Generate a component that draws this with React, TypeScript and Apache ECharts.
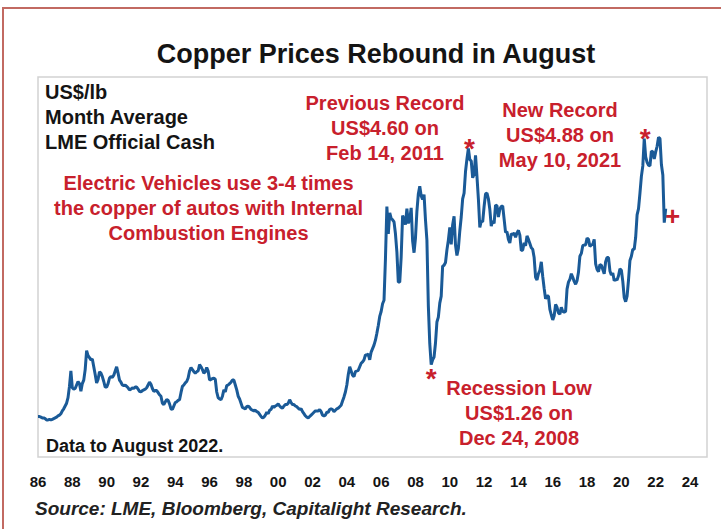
import React, { useEffect, useRef } from "react";
import * as echarts from "echarts";

// Monthly average LME official cash copper price, US$/lb, Jan 1986 - Aug 2022
const START_YEAR = 1986;
const prices1986to1993 = [
  0.65, 0.65, 0.64, 0.63, 0.63, 0.62, 0.60, 0.60, 0.61, 0.60, 0.61, 0.62,
  0.63, 0.64, 0.66, 0.67, 0.69, 0.73, 0.76, 0.80, 0.84, 0.92, 1.08, 1.30,
  1.06, 1.04, 1.05, 1.10, 1.15, 1.12, 1.01, 1.12, 1.17, 1.32, 1.59, 1.52,
  1.49, 1.46, 1.47, 1.36, 1.25, 1.13, 1.18, 1.29, 1.27, 1.22, 1.15, 1.07,
  1.07, 1.12, 1.20, 1.22, 1.21, 1.24, 1.30, 1.36, 1.27, 1.17, 1.14, 1.10,
  1.09, 1.10, 1.08, 1.06, 1.03, 1.04, 1.06, 1.05, 1.07, 1.07, 1.04, 1.01,
  1.00, 1.02, 1.03, 1.04, 1.06, 1.10, 1.14, 1.11, 1.05, 1.01, 1.02, 1.02,
  0.99, 0.96, 0.94, 0.84, 0.82, 0.86, 0.89, 0.88, 0.83, 0.76, 0.75, 0.80,
];
const prices1994to2001 = [
  0.85, 0.86, 0.88, 0.89, 0.99, 1.08, 1.10, 1.13, 1.15, 1.20, 1.30, 1.35,
  1.32, 1.29, 1.27, 1.29, 1.30, 1.39, 1.36, 1.32, 1.27, 1.29, 1.35, 1.30,
  1.17, 1.18, 1.19, 1.20, 1.18, 1.00, 0.92, 0.90, 0.89, 0.94, 1.03, 1.00,
  1.09, 1.10, 1.12, 1.14, 1.17, 1.17, 1.10, 1.03, 0.94, 0.90, 0.84, 0.78,
  0.77, 0.76, 0.79, 0.80, 0.78, 0.75, 0.74, 0.73, 0.74, 0.72, 0.71, 0.68,
  0.65, 0.63, 0.64, 0.67, 0.71, 0.69, 0.74, 0.75, 0.80, 0.78, 0.80, 0.81,
  0.83, 0.80, 0.78, 0.77, 0.80, 0.82, 0.82, 0.84, 0.89, 0.85, 0.82, 0.82,
  0.80, 0.79, 0.77, 0.75, 0.76, 0.72, 0.69, 0.66, 0.64, 0.63, 0.65, 0.67,
];
const prices2002to2009 = [
  0.69, 0.71, 0.73, 0.73, 0.73, 0.75, 0.72, 0.67, 0.66, 0.67, 0.71, 0.71,
  0.75, 0.76, 0.75, 0.72, 0.74, 0.76, 0.77, 0.79, 0.81, 0.87, 0.93, 1.00,
  1.10, 1.25, 1.36, 1.30, 1.24, 1.22, 1.29, 1.30, 1.31, 1.36, 1.41, 1.43,
  1.46, 1.53, 1.53, 1.54, 1.46, 1.57, 1.62, 1.67, 1.74, 1.84, 1.95, 2.08,
  2.15, 2.26, 2.31, 2.90, 3.65, 3.26, 3.56, 3.48, 3.46, 3.43, 3.26, 3.00,
  2.57, 2.57, 2.93, 3.52, 3.47, 3.39, 3.62, 3.41, 3.47, 3.63, 3.16, 2.99,
  3.20, 3.58, 3.83, 3.94, 3.80, 3.75, 3.82, 3.46, 3.17, 2.23, 1.69, 1.39,
  1.46, 1.50, 1.70, 2.00, 2.07, 2.27, 2.37, 2.80, 2.81, 2.85, 3.03, 3.17,
];
const prices2010to2017 = [
  3.35, 3.11, 3.39, 3.51, 3.10, 2.95, 3.05, 3.30, 3.50, 3.76, 3.84, 4.15,
  4.33, 4.48, 4.32, 4.30, 4.06, 4.11, 4.38, 4.08, 3.76, 3.35, 3.44, 3.43,
  3.65, 3.83, 3.84, 3.76, 3.61, 3.37, 3.44, 3.41, 3.67, 3.66, 3.50, 3.61,
  3.65, 3.66, 3.47, 3.28, 3.29, 3.18, 3.13, 3.26, 3.25, 3.27, 3.21, 3.27,
  3.31, 3.24, 3.02, 3.03, 3.13, 3.09, 3.23, 3.18, 3.12, 3.06, 3.04, 2.92,
  2.64, 2.60, 2.69, 2.74, 2.86, 2.65, 2.48, 2.33, 2.37, 2.37, 2.18, 2.10,
  2.03, 2.09, 2.25, 2.21, 2.13, 2.11, 2.21, 2.15, 2.14, 2.15, 2.47, 2.57,
  2.61, 2.69, 2.64, 2.58, 2.54, 2.59, 2.71, 2.94, 2.98, 3.09, 3.10, 3.10,
];
const prices2018to2022 = [
  3.20, 3.18, 3.08, 3.10, 3.11, 3.18, 2.83, 2.75, 2.72, 2.82, 2.81, 2.75,
  2.69, 2.86, 2.92, 2.92, 2.73, 2.67, 2.70, 2.59, 2.61, 2.60, 2.66, 2.76,
  2.74, 2.58, 2.35, 2.29, 2.37, 2.60, 2.88, 2.94, 3.04, 3.04, 3.21, 3.53,
  3.62, 3.84, 4.08, 4.23, 4.62, 4.36, 4.28, 4.24, 4.23, 4.44, 4.43, 4.33,
  4.43, 4.51, 4.64, 4.62, 4.25, 4.10, 3.42, 3.62,
];

// Marked dates (year, month index 0-11)
const previousRecord = [2011, 1];
const newRecord = [2021, 4];
const recessionLow = [2008, 11];

const X_MIN = 1986;
const X_MAX = 2024;
const X_STEP = 2;
const Y_MIN = 0;
const Y_MAX = 5.5;

const TITLE = "Copper Prices Rebound in August";
const UNIT_TEXT = "US$/lb\nMonth Average\nLME Official Cash";
const EV_TEXT =
  "Electric Vehicles use 3-4 times\nthe copper of autos with Internal\nCombustion Engines";
const PREV_TEXT = "Previous Record\nUS$4.60 on\nFeb 14, 2011";
const NEW_TEXT = "New Record\nUS$4.88 on\nMay 10, 2021";
const LOW_TEXT = "Recession Low\nUS$1.26 on\nDec 24, 2008";
const DATA_NOTE = "Data to August 2022.";
const SOURCE = "Source: LME, Bloomberg, Capitalight Research.";

const FONT = "'Liberation Sans', Arial, Helvetica, sans-serif";
const RED = "#c8202c";
const BLUE = "#1a5a97";
const BLACK = "#141414";

export default function App() {
  const ref = useRef<HTMLDivElement>(null);

  useEffect(() => {
    document.body.style.margin = "0";
    if (!ref.current) return;
    const chart = echarts.init(ref.current, undefined, { renderer: "svg" });

    const all = [
      ...prices1986to1993,
      ...prices1994to2001,
      ...prices2002to2009,
      ...prices2010to2017,
      ...prices2018to2022,
    ];
    const data = all.map((v, i) => [START_YEAR + i / 12, v]);
    const at = (ym: number[]) => data[(ym[0] - START_YEAR) * 12 + ym[1]];
    const last = data[data.length - 1];

    const redText = (text: string, x: number, y: number) => ({
      type: "text",
      x,
      y,
      silent: true,
      style: {
        text,
        fill: RED,
        font: `bold 20px ${FONT}`,
        align: "center",
        verticalAlign: "top",
        lineHeight: 25,
      },
    });

    chart.setOption({
      animation: false,
      backgroundColor: "#ffffff",
      grid: { left: 38, top: 77, width: 652, height: 385, containLabel: false },
      xAxis: {
        type: "value",
        min: X_MIN,
        max: X_MAX,
        interval: X_STEP,
        axisLine: { show: false },
        axisTick: { show: false },
        splitLine: { show: false },
        axisLabel: {
          show: true,
          margin: 12,
          color: BLACK,
          fontFamily: FONT,
          fontWeight: "bold",
          fontSize: 15,
          showMinLabel: true,
          showMaxLabel: true,
          formatter: (v: number) => String(Math.round(v) % 100).padStart(2, "0"),
        },
      },
      yAxis: {
        type: "value",
        min: Y_MIN,
        max: Y_MAX,
        show: false,
        splitLine: { show: false },
      },
      series: [
        {
          type: "line",
          data,
          showSymbol: false,
          symbol: "none",
          clip: false,
          lineStyle: { color: BLUE, width: 3 },
          z: 5,
          markPoint: {
            symbol: "circle",
            symbolSize: 1,
            itemStyle: { color: "rgba(0,0,0,0)" },
            label: {
              show: true,
              position: "inside",
              color: RED,
              fontWeight: "bold",
              fontFamily: FONT,
            },
            data: [
              { coord: at(previousRecord), label: { formatter: "*", fontSize: 28, offset: [1, 0] } },
              { coord: at(newRecord), label: { formatter: "*", fontSize: 28, offset: [1, 0] } },
              { coord: at(recessionLow), label: { formatter: "*", fontSize: 28, offset: [0, 14] } },
              { coord: last, label: { formatter: "+", fontSize: 26, offset: [7, 7] } },
            ],
          },
        },
      ],
      graphic: [
        {
          type: "rect",
          silent: true,
          z: -1,
          shape: { x: 3, y: 8, width: 800, height: 600 },
          style: { fill: "none", stroke: "#c26a62", lineWidth: 2 },
        },
        {
          type: "rect",
          silent: true,
          z: -1,
          shape: { x: 38, y: 77, width: 669, height: 380 },
          style: { fill: "none", stroke: "#d2d2d2", lineWidth: 1.5 },
        },
        {
          type: "text",
          x: 376,
          y: 53.5,
          silent: true,
          style: {
            text: TITLE,
            fill: BLACK,
            font: `bold 27px ${FONT}`,
            align: "center",
            verticalAlign: "middle",
          },
        },
        {
          type: "text",
          x: 45,
          y: 79,
          silent: true,
          style: {
            text: UNIT_TEXT,
            fill: BLACK,
            font: `bold 20px ${FONT}`,
            align: "left",
            verticalAlign: "top",
            lineHeight: 25,
          },
        },
        redText(EV_TEXT, 208.5, 170.5),
        redText(PREV_TEXT, 385, 90),
        redText(NEW_TEXT, 560, 97),
        redText(LOW_TEXT, 519, 375.5),
        {
          type: "text",
          x: 46,
          y: 445.5,
          silent: true,
          style: {
            text: DATA_NOTE,
            fill: BLACK,
            font: `bold 18px ${FONT}`,
            align: "left",
            verticalAlign: "middle",
          },
        },
        {
          type: "text",
          x: 35,
          y: 508.5,
          silent: true,
          style: {
            text: SOURCE,
            fill: "#222222",
            font: `italic bold 19px ${FONT}`,
            align: "left",
            verticalAlign: "middle",
          },
        },
      ],
    });

    return () => chart.dispose();
  }, []);

  return <div ref={ref} style={{ width: 721, height: 529 }} />;
}
